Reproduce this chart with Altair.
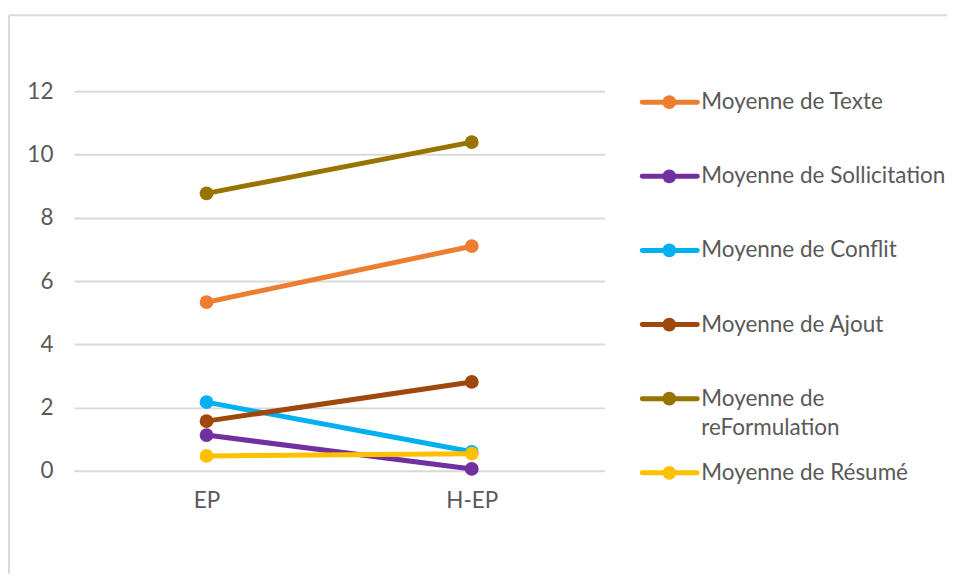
import altair as alt
import pandas as pd

categories = ["EP", "H-EP"]
series = [
    "Moyenne de Texte",
    "Moyenne de Sollicitation",
    "Moyenne de Conflit",
    "Moyenne de Ajout",
    "Moyenne de reFormulation",
    "Moyenne de Résumé",
]
colors = ["#ED7D31", "#7030A0", "#00B0F0", "#9E480E", "#997300", "#FFC000"]
texte = [5.33, 7.10]
sollicitation = [1.13, 0.06]
conflit = [2.17, 0.60]
ajout = [1.57, 2.81]
reformulation = [8.77, 10.39]
resume = [0.47, 0.54]
legend_line1 = ["Moyenne de Texte", "Moyenne de Sollicitation", "Moyenne de Conflit",
                "Moyenne de Ajout", "Moyenne de", "Moyenne de Résumé"]
legend_line2 = ["", "", "", "", "reFormulation", ""]
y_ticks = [0, 2, 4, 6, 8, 10, 12]

all_values = [texte, sollicitation, conflit, ajout, reformulation, resume]
rows = []
for s, vals in zip(series, all_values):
    for c, v in zip(categories, vals):
        rows.append({"series": s, "cat": c, "value": v})
df = pd.DataFrame(rows)

leg_df = pd.DataFrame({
    "idx": list(range(len(series))),
    "series": series,
    "line1": legend_line1,
    "line2": legend_line2,
})

FONT = "Lato"
TXT = "#595959"
GRID = "#d9d9d9"
FS = 22.5

cscale = alt.Scale(domain=series, range=colors)
X = alt.X("cat:N", scale=alt.Scale(type="point", domain=categories, padding=0.5),
          axis=alt.Axis(title=None, labelAngle=0, ticks=False, domain=False, grid=False,
                        labelPadding=19, labelFontSize=FS, labelColor=TXT, labelFont=FONT))
Y = alt.Y("value:Q", scale=alt.Scale(domain=[0, 12], nice=False, zero=True),
          axis=alt.Axis(title=None, values=y_ticks, ticks=False, domain=False,
                        labelPadding=21, labelFontSize=FS, labelColor=TXT, labelFont=FONT,
                        gridColor=GRID, gridWidth=2))
C = alt.Color("series:N", scale=cscale, legend=None)

main_layers = []
for s in series:
    base = alt.Chart(df).transform_filter(alt.datum.series == s)
    main_layers.append(base.mark_line(strokeWidth=5, strokeCap="round").encode(x=X, y=Y, color=C))
    main_layers.append(base.mark_circle(size=190, opacity=1).encode(x=X, y=Y, color=C))
main = alt.layer(*main_layers)

YL = alt.Y("idx:Q", scale=alt.Scale(domain=[0, 5], range=[11, 382]), axis=None)
leg_base = alt.Chart(leg_df)
leg_line = leg_base.mark_rule(strokeWidth=5, strokeCap="round").encode(
    x=alt.value(569), x2=alt.value(624), y=YL, color=C)
leg_pt = leg_base.mark_circle(size=190, opacity=1).encode(x=alt.value(596), y=YL, color=C)
leg_t1 = leg_base.mark_text(align="left", baseline="middle", font=FONT, fontSize=FS, color=TXT).encode(
    x=alt.value(628), y=YL, text="line1:N")
leg_t2 = leg_base.mark_text(align="left", baseline="middle", font=FONT, fontSize=FS, color=TXT, dy=29).encode(
    x=alt.value(628), y=YL, text="line2:N")

frame_df = pd.DataFrame({"a": [0]})
frame_top = alt.Chart(frame_df).mark_rule(color=GRID, strokeWidth=2).encode(
    x=alt.value(-65), x2=alt.value(874), y=alt.value(-76))
frame_left = alt.Chart(frame_df).mark_rule(color=GRID, strokeWidth=2).encode(
    x=alt.value(-65), y=alt.value(-76), y2=alt.value(483))

legend = alt.layer(frame_top, frame_left, leg_line, leg_pt, leg_t1, leg_t2)

chart = alt.layer(main, legend).resolve_scale(y="independent").properties(
    width=531, height=380,
    padding={"left": 0, "top": 6, "right": 0, "bottom": 0},
    background="white",
).configure_view(stroke=None)

chart.save("out.html", embed_options={"renderer": "svg", "actions": False})
